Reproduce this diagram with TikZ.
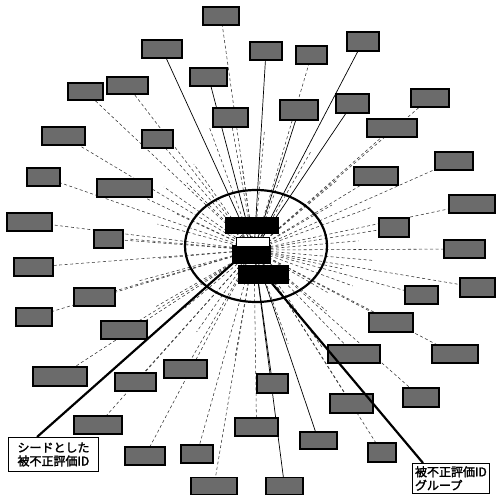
\documentclass[tikz,border=0pt]{standalone}
\usepackage{fontspec}
\newfontfamily\cjk{Noto Sans CJK JP}[AutoFakeBold=2]
\usetikzlibrary{shapes.geometric}
\pgfdeclarelayer{bg}
\pgfsetlayers{bg,main}
\tikzset{
  idbox/.style={draw=black, fill=black!58, line width=1.2pt, inner sep=0pt},
  core/.style={draw=black, fill=black, inner sep=0pt},
  ray/.style={black!80, line width=0.55pt, dash pattern=on 3pt off 2.5pt},
  sray/.style={black, line width=0.7pt},
  callout/.style={line width=2.2pt, black},
  lab/.style={draw=black, line width=1pt, fill=white, inner sep=2.5pt, align=left,
              font=\cjk\bfseries\fontsize{12}{13.5}\selectfont}
}
\begin{document}
\begin{tikzpicture}[x=1pt,y=-1pt]
\useasboundingbox (0,0) rectangle (496,495);
\coordinate (c) at (254,250);
% ID boxes
\foreach \n/\x/\y/\w/\h in {
 1/221/16/36/18, 2/162/49/40/18, 3/208.5/77/37/18, 4/85.5/91.5/35/17,
 5/127.5/85.5/41/17, 6/230.5/117.5/35/19, 7/63.5/136/43/18, 8/157.5/139/31/18,
 9/43.5/177/33/18, 10/124.5/188/55/18, 11/29.5/222/45/18, 12/108.5/239/29/18,
 13/266/51/32/18, 14/311.5/55/31/18, 15/363/41.5/32/19, 16/299/110/38/20,
 17/352.5/103.5/33/19, 18/430/98/38/18, 19/392/128/50/18, 20/454/161/38/18,
 21/376/176/44/18, 22/472/204/46/18, 23/394/227.5/30/19, 24/464.5/249/41/18,
 25/477.5/287.5/35/19, 26/421.5/295/33/18, 27/391/322.5/44/19, 28/455/354/46/18,
 29/354/354/52/18, 30/272.5/383.5/31/19, 31/421/397.5/36/19, 32/351.5/403.5/43/19,
 33/318.5/440.5/37/17, 34/382/452.5/28/19, 35/284.5/486/37/17, 36/33.5/267/39/18,
 37/94.5/297/41/18, 38/34/317/36/18, 39/124/330/46/18, 40/60/376.5/54/19,
 41/135.5/382/41/18, 42/185.5/369/43/18, 43/98/425/48/18, 44/145/456/40/18,
 45/197/454/32/18, 46/214/486/46/17, 47/256.5/427/43/18}
  \node[idbox, minimum width=\w, minimum height=\h] (b\n) at (\x,\y) {};
% center group
\node[core, minimum width=53, minimum height=16] (ca) at (251.5,225) {};
\node[core, minimum width=38, minimum height=18] (cb) at (251,254) {};
\node[draw=black, fill=white, line width=1pt, inner sep=0pt, minimum width=33, minimum height=9] (cbt) at (252.5,241.5) {};
\node[core, minimum width=50, minimum height=18] (cc) at (263,274) {};
\node[draw=black, ellipse, line width=2.2pt, inner sep=0pt, minimum width=142, minimum height=112] (grp) at (256,246) {};
% rays
\begin{pgfonlayer}{bg}
\foreach \n in {1,4,5,6,7,8,9,10,11,12,14,18,19,20,21,22,23,24,25,26,27,28,29,31,32,34,36,37,38,39,40,41,42,43,44,45,46,47}
  \draw[ray] (c) -- (b\n);
\foreach \n in {2,3,13,15,16,17,30,33,35}
  \draw[sray] (c) -- (b\n);
\foreach \a/\r in {5/120, 20/105, 40/95, 55/120, 100/110, 125/100, 150/115, 165/120,
  185/125, 195/100, 215/110, 235/105, 250/130, 275/120, 300/115, 320/110, 340/125, 355/105,
  12/90, 30/85, 70/100, 140/90, 175/95, 205/85, 225/95, 262/90, 290/95, 330/90}
  \draw[ray] (c) -- ++(\a:\r) coordinate (e\a);
\end{pgfonlayer}
% callouts
\node[lab, anchor=north west, minimum width=90, minimum height=34] (lab1) at (8,437) {シードとした\\被不正評価ID};
\node[lab, anchor=north west, minimum width=75, minimum height=30] (lab2) at (412,463) {被不正評価ID\\グループ};
\coordinate (s1) at (240,257);
\coordinate (s2) at (270,281);
\draw[callout] (s1) -- ([xshift=29pt]lab1.north west);
\draw[callout] (s2) -- ([xshift=11pt]lab2.north west);
\end{tikzpicture}
\end{document}
